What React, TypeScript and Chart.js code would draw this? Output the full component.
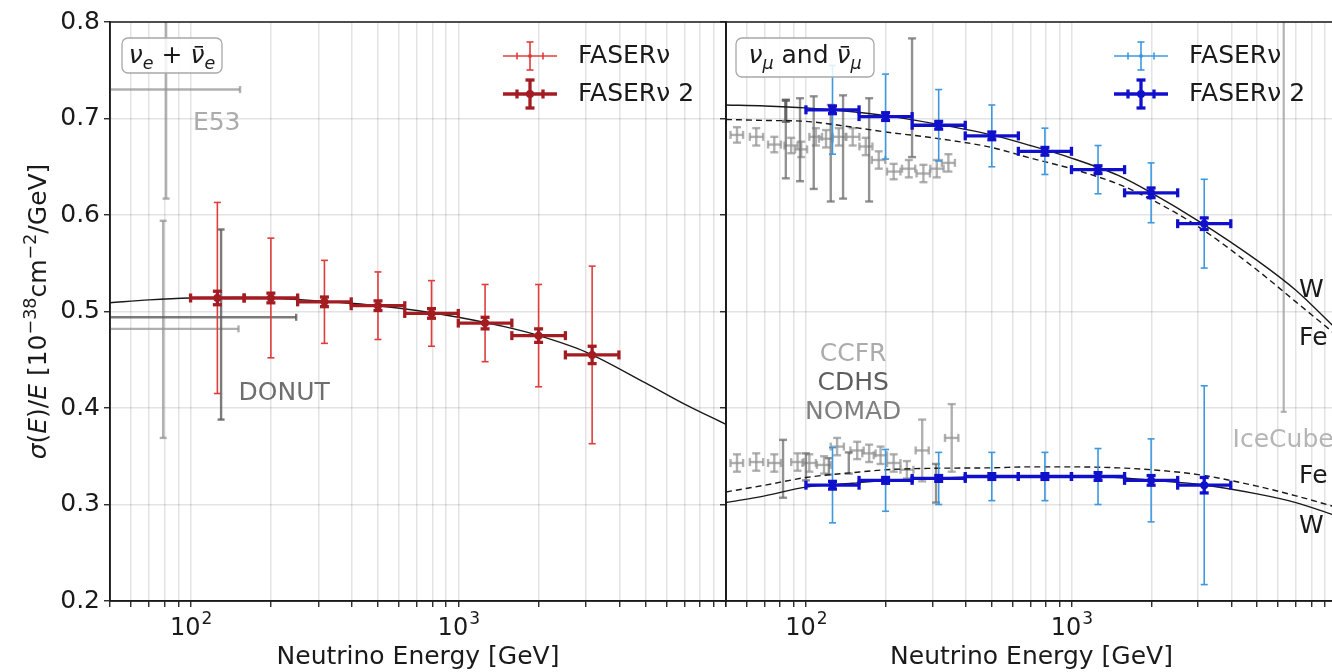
import React, { useEffect, useRef } from 'react';
import { Chart, registerables } from 'chart.js';

Chart.register(...registerables);

const FONT = "'DejaVu Sans', 'Noto Sans', sans-serif";
const INK = '#1a1a1a';

// ---------- axis ticks ----------
const X_GRID = [50, 60, 70, 80, 90, 100, 200, 300, 400, 500, 600, 700, 800, 900, 1000, 2000, 3000, 4000, 5000, 6000, 7000, 8000, 9000, 10000];
const X_LABELED = [100, 1000];
const X_LABEL_EXP = ['2', '3'];
const Y_TICKS = [0.2, 0.3, 0.4, 0.5, 0.6, 0.7, 0.8];

// ---------- FASERν energy bins (GeV) ----------
const BIN_LOW = [100, 158.5, 251.2, 398.1, 631.0, 1000, 1585, 2512];
const BIN_HIGH = [158.5, 251.2, 398.1, 631.0, 1000, 1585, 2512, 3981];
const BIN_CENTER = [125.9, 199.5, 316.2, 501.2, 794.3, 1259, 1995, 3162];

// ---------- νe + ν̄e ----------
const NUE_VALUE = [0.514, 0.514, 0.510, 0.506, 0.498, 0.488, 0.475, 0.455];
const NUE_ERR_FASERNU = [0.099, 0.062, 0.043, 0.035, 0.034, 0.040, 0.053, 0.092];
const NUE_ERR_FASERNU2 = [0.007, 0.005, 0.005, 0.005, 0.005, 0.006, 0.007, 0.009];

// ---------- νμ ----------
const NUMU_VALUE = [0.709, 0.702, 0.693, 0.682, 0.666, 0.647, 0.623, 0.591];
const NUMU_ERR_FASERNU = [0.046, 0.044, 0.037, 0.032, 0.024, 0.025, 0.031, 0.046];
const NUMU_ERR_FASERNU2 = [0.004, 0.004, 0.004, 0.004, 0.004, 0.004, 0.005, 0.006];

// ---------- ν̄μ ----------
const NUMUBAR_VALUE = [0.320, 0.325, 0.327, 0.329, 0.329, 0.329, 0.325, 0.320];
const NUMUBAR_ERR_FASERNU = [0.039, 0.032, 0.027, 0.025, 0.025, 0.029, 0.043, 0.103];
const NUMUBAR_ERR_FASERNU2 = [0.004, 0.003, 0.003, 0.003, 0.003, 0.004, 0.005, 0.008];

// ---------- theory curves ----------
const CURVE_E = [50, 70, 100, 150, 200, 300, 500, 700, 1000, 1500, 2000, 3000, 5000, 7000, 10000];
const NUE_CURVE = [0.509, 0.512, 0.514, 0.5145, 0.514, 0.511, 0.506, 0.501, 0.494, 0.484, 0.475, 0.458, 0.426, 0.404, 0.383];
const NUMU_W = [0.714, 0.713, 0.711, 0.707, 0.703, 0.695, 0.683, 0.672, 0.659, 0.641, 0.623, 0.594, 0.553, 0.522, 0.481];
const NUMU_FE = [0.699, 0.698, 0.697, 0.691, 0.686, 0.680, 0.670, 0.659, 0.648, 0.632, 0.616, 0.588, 0.543, 0.510, 0.475];
const NUMUBAR_W = [0.302, 0.309, 0.318, 0.322, 0.325, 0.327, 0.329, 0.329, 0.329, 0.328, 0.325, 0.321, 0.311, 0.302, 0.288];
const NUMUBAR_FE = [0.313, 0.320, 0.328, 0.333, 0.336, 0.3375, 0.338, 0.339, 0.339, 0.338, 0.336, 0.331, 0.319, 0.309, 0.297];

// ---------- earlier measurements ----------
const E53_E = [81, 79];
const E53_VALUE = [0.730, 0.482];
const E53_LOW = [0.617, 0.369];
const E53_HIGH = [0.843, 0.594];
const E53_E_LOW = [40, 40];
const E53_E_HIGH = [153, 151];

const DONUT_E = [130];
const DONUT_VALUE = [0.494];
const DONUT_LOW = [0.388];
const DONUT_HIGH = [0.585];
const DONUT_E_LOW = [40];
const DONUT_E_HIGH = [248];

const CCFR_NU_E = [55, 65, 76, 88, 96, 109, 119, 133, 150, 168, 188, 214, 244, 277, 311, 344];
const CCFR_NU_E_LOW = [52, 61.5, 72, 83, 91, 103, 112, 126, 142, 159, 177, 202, 230, 261, 294, 325];
const CCFR_NU_E_HIGH = [58, 69, 80.5, 93, 101, 115, 126, 141, 159, 178, 199, 227, 258, 293, 330, 364];
const CCFR_NU_VALUE = [0.683, 0.681, 0.673, 0.672, 0.668, 0.681, 0.679, 0.681, 0.681, 0.671, 0.657, 0.645, 0.648, 0.643, 0.648, 0.654];
const CCFR_NU_ERR = [0.008, 0.009, 0.008, 0.008, 0.008, 0.009, 0.009, 0.009, 0.009, 0.009, 0.009, 0.008, 0.009, 0.009, 0.009, 0.009];

const CDHS_NU_E = [84, 95, 107, 124, 138, 173, 251];
const CDHS_NU_LOW = [0.638, 0.635, 0.627, 0.614, 0.617, 0.614, 0.660];
const CDHS_NU_HIGH = [0.719, 0.721, 0.723, 0.714, 0.724, 0.721, 0.783];

const NOMAD_NU_E = [84];
const NOMAD_NU_LOW = [0.697];
const NOMAD_NU_HIGH = [0.719];

const CCFR_NUBAR_E = [55, 65, 76, 93, 103, 117, 131, 156, 173, 191, 214, 240, 274, 354];
const CCFR_NUBAR_E_LOW = [52, 61.5, 72, 88, 97, 110, 124, 147, 163, 180, 202, 227, 259, 334];
const CCFR_NUBAR_E_HIGH = [58, 69, 80.5, 98, 109, 124, 139, 165, 183, 202, 227, 254, 290, 375];
const CCFR_NUBAR_VALUE = [0.343, 0.344, 0.343, 0.344, 0.343, 0.341, 0.360, 0.356, 0.353, 0.351, 0.343, 0.336, 0.356, 0.369];
const CCFR_NUBAR_ERR = [0.009, 0.009, 0.009, 0.009, 0.009, 0.009, 0.009, 0.009, 0.009, 0.009, 0.009, 0.009, 0.032, 0.035];

const CDHS_NUBAR_E = [82, 100, 122, 145, 309];
const CDHS_NUBAR_LOW = [0.307, 0.325, 0.331, 0.332, 0.302];
const CDHS_NUBAR_HIGH = [0.367, 0.353, 0.348, 0.354, 0.342];

const ICECUBE_E = [6300];
const ICECUBE_LOW = [0.396];
const ICECUBE_HIGH = [0.86];

// ---------- colours ----------
const RED_LIGHT = '#e03c3c';
const RED_DARK = '#a31c22';
const BLUE_LIGHT = '#3d98e0';
const BLUE_DARK = '#1010cc';
const GRAY_LIGHT = 'rgba(150,150,150,0.75)';
const GRAY_DARK = 'rgba(90,90,90,0.8)';
const GRAY_MID = 'rgba(110,110,110,0.75)';

// ---------- types ----------
interface ErrSet {
  x: number[]; y?: number[]; lo: number[]; hi: number[];
  xlo?: number[]; xhi?: number[];
  color: string; lw: number; cap: number; dot?: number;
}
interface MathSeg { t: string; it?: boolean; sub?: boolean; sup?: boolean; bar?: boolean; }
interface Label { text: string; x: number; y: number; color: string; align: CanvasTextAlign; }
interface LegendItem { label: string; color: string; lw: number; cap: number; dot: number; }
interface Curve { y: number[]; dash: boolean; }
interface PanelDef {
  back: ErrSet[]; front: ErrSet[]; curves: Curve[]; labels: Label[];
  legend: LegendItem[];
  box: { segs: MathSeg[]; dx: number; dy: number; w: number; h: number };
}

function faser(value: number[], errNu: number[], errNu2: number[], light: string, dark: string): ErrSet[] {
  return [
    { x: BIN_CENTER, y: value, lo: value.map((v, i) => v - errNu[i]), hi: value.map((v, i) => v + errNu[i]),
      xlo: BIN_LOW, xhi: BIN_HIGH, color: light, lw: 1.6, cap: 3.5, dot: 2.5 },
    { x: BIN_CENTER, y: value, lo: value.map((v, i) => v - errNu2[i]), hi: value.map((v, i) => v + errNu2[i]),
      xlo: BIN_LOW, xhi: BIN_HIGH, color: dark, lw: 3.3, cap: 4.5, dot: 4 },
  ];
}
function crosses(e: number[], elo: number[], ehi: number[], v: number[], err: number[], color: string): ErrSet {
  return { x: e, y: v, lo: v.map((a, i) => a - err[i]), hi: v.map((a, i) => a + err[i]), xlo: elo, xhi: ehi, color, lw: 2.4, cap: 4 };
}

const LEFT: PanelDef = {
  back: [
    { x: E53_E, y: E53_VALUE, lo: E53_LOW, hi: E53_HIGH, xlo: E53_E_LOW, xhi: E53_E_HIGH, color: GRAY_LIGHT, lw: 2.4, cap: 3.5 },
    { x: DONUT_E, y: DONUT_VALUE, lo: DONUT_LOW, hi: DONUT_HIGH, xlo: DONUT_E_LOW, xhi: DONUT_E_HIGH, color: GRAY_DARK, lw: 2.4, cap: 3.5 },
  ],
  front: faser(NUE_VALUE, NUE_ERR_FASERNU, NUE_ERR_FASERNU2, RED_LIGHT, RED_DARK),
  curves: [{ y: NUE_CURVE, dash: false }],
  labels: [
    { text: 'E53', x: 102, y: 0.695, color: '#ababab', align: 'left' },
    { text: 'DONUT', x: 151, y: 0.4155, color: '#6e6e6e', align: 'left' },
  ],
  legend: [
    { label: 'FASERν', color: RED_LIGHT, lw: 1.6, cap: 3.5, dot: 2 },
    { label: 'FASERν 2', color: RED_DARK, lw: 3.3, cap: 4.5, dot: 4 },
  ],
  box: {
    segs: [{ t: 'ν', it: true }, { t: 'e', it: true, sub: true }, { t: ' + ' }, { t: 'ν', it: true, bar: true }, { t: 'e', it: true, sub: true }],
    dx: 12, dy: 16, w: 100, h: 35,
  },
};

const RIGHT: PanelDef = {
  back: [
    crosses(CCFR_NU_E, CCFR_NU_E_LOW, CCFR_NU_E_HIGH, CCFR_NU_VALUE, CCFR_NU_ERR, GRAY_LIGHT),
    crosses(CCFR_NUBAR_E, CCFR_NUBAR_E_LOW, CCFR_NUBAR_E_HIGH, CCFR_NUBAR_VALUE, CCFR_NUBAR_ERR, GRAY_LIGHT),
    { x: CDHS_NU_E, lo: CDHS_NU_LOW, hi: CDHS_NU_HIGH, color: GRAY_MID, lw: 2.4, cap: 4 },
    { x: CDHS_NUBAR_E, lo: CDHS_NUBAR_LOW, hi: CDHS_NUBAR_HIGH, color: GRAY_MID, lw: 2.4, cap: 4 },
    { x: NOMAD_NU_E, lo: NOMAD_NU_LOW, hi: NOMAD_NU_HIGH, color: GRAY_DARK, lw: 3.2, cap: 4 },
    { x: ICECUBE_E, lo: ICECUBE_LOW, hi: ICECUBE_HIGH, color: 'rgba(160,160,160,0.8)', lw: 2.2, cap: 3 },
  ],
  front: [
    ...faser(NUMU_VALUE, NUMU_ERR_FASERNU, NUMU_ERR_FASERNU2, BLUE_LIGHT, BLUE_DARK),
    ...faser(NUMUBAR_VALUE, NUMUBAR_ERR_FASERNU, NUMUBAR_ERR_FASERNU2, BLUE_LIGHT, BLUE_DARK),
  ],
  curves: [
    { y: NUMU_W, dash: false }, { y: NUMU_FE, dash: true },
    { y: NUMUBAR_W, dash: false }, { y: NUMUBAR_FE, dash: true },
  ],
  labels: [
    { text: 'CCFR', x: 150.6, y: 0.455, color: '#ababab', align: 'center' },
    { text: 'CDHS', x: 150.6, y: 0.425, color: '#5e5e5e', align: 'center' },
    { text: 'NOMAD', x: 150.6, y: 0.3953, color: '#808080', align: 'center' },
    { text: 'IceCube', x: 4045, y: 0.366, color: '#b5b5b5', align: 'left' },
    { text: 'W', x: 7200, y: 0.522, color: INK, align: 'left' },
    { text: 'Fe', x: 7200, y: 0.4725, color: INK, align: 'left' },
    { text: 'Fe', x: 7200, y: 0.3285, color: INK, align: 'left' },
    { text: 'W', x: 7200, y: 0.2767, color: INK, align: 'left' },
  ],
  legend: [
    { label: 'FASERν', color: BLUE_LIGHT, lw: 1.6, cap: 3.5, dot: 2 },
    { label: 'FASERν 2', color: BLUE_DARK, lw: 3.3, cap: 4.5, dot: 4 },
  ],
  box: {
    segs: [{ t: 'ν', it: true }, { t: 'μ', it: true, sub: true }, { t: ' and ' }, { t: 'ν', it: true, bar: true }, { t: 'μ', it: true, sub: true }],
    dx: 10, dy: 16, w: 138, h: 39,
  },
};

const Y_TITLE: MathSeg[] = [
  { t: 'σ', it: true }, { t: '(' }, { t: 'E', it: true }, { t: ')/' }, { t: 'E', it: true },
  { t: ' [10' }, { t: '−38', sup: true }, { t: 'cm' }, { t: '−2', sup: true }, { t: '/GeV]' },
];

// ---------- drawing helpers ----------
function segFont(s: MathSeg, size: number) {
  const sz = s.sub || s.sup ? size * 0.7 : size;
  return `${s.it ? 'italic ' : ''}${sz}px ${FONT}`;
}
function mathWidth(ctx: CanvasRenderingContext2D, segs: MathSeg[], size: number) {
  let w = 0;
  for (const s of segs) { ctx.font = segFont(s, size); w += ctx.measureText(s.t).width; }
  return w;
}
function drawMath(ctx: CanvasRenderingContext2D, segs: MathSeg[], x: number, y: number, size: number) {
  let cx = x;
  ctx.textBaseline = 'alphabetic';
  ctx.textAlign = 'left';
  for (const s of segs) {
    ctx.font = segFont(s, size);
    const dy = s.sub ? size * 0.24 : s.sup ? -size * 0.4 : 0;
    ctx.fillText(s.t, cx, y + dy);
    const w = ctx.measureText(s.t).width;
    if (s.bar) ctx.fillRect(cx + w * 0.3, y - size * 0.68, w * 0.6, 1.6);
    cx += w;
  }
}

function drawErr(chart: any, s: ErrSet) {
  const { ctx, chartArea: a } = chart;
  const xs = chart.scales.x, ys = chart.scales.y;
  ctx.save();
  ctx.beginPath();
  ctx.rect(a.left, a.top, a.right - a.left, a.bottom - a.top);
  ctx.clip();
  ctx.strokeStyle = s.color;
  ctx.fillStyle = s.color;
  ctx.lineWidth = s.lw;
  ctx.lineCap = 'butt';
  const seg = (x1: number, y1: number, x2: number, y2: number) => {
    ctx.beginPath(); ctx.moveTo(x1, y1); ctx.lineTo(x2, y2); ctx.stroke();
  };
  for (let i = 0; i < s.x.length; i++) {
    const px = xs.getPixelForValue(s.x[i]);
    if (s.y && s.xlo && s.xhi) {
      const py = ys.getPixelForValue(s.y[i]);
      const x1 = xs.getPixelForValue(s.xlo[i]);
      const x2 = xs.getPixelForValue(s.xhi[i]);
      seg(x1, py, x2, py);
      seg(x1, py - s.cap, x1, py + s.cap);
      seg(x2, py - s.cap, x2, py + s.cap);
    }
    const y1 = ys.getPixelForValue(s.lo[i]);
    const y2 = ys.getPixelForValue(s.hi[i]);
    seg(px, y1, px, y2);
    seg(px - s.cap, y1, px + s.cap, y1);
    seg(px - s.cap, y2, px + s.cap, y2);
    if (s.dot && s.y) {
      ctx.beginPath();
      ctx.arc(px, ys.getPixelForValue(s.y[i]), s.dot, 0, Math.PI * 2);
      ctx.fill();
    }
  }
  ctx.restore();
}

function drawLegend(ctx: CanvasRenderingContext2D, a: any, items: LegendItem[]) {
  const x0 = a.right - 223, x1 = a.right - 169, xc = (x0 + x1) / 2, tx = a.right - 148;
  items.forEach((it, i) => {
    const y = a.top + 34 + i * 38;
    ctx.save();
    ctx.strokeStyle = it.color; ctx.fillStyle = it.color; ctx.lineWidth = it.lw;
    const seg = (ax: number, ay: number, bx: number, by: number) => {
      ctx.beginPath(); ctx.moveTo(ax, ay); ctx.lineTo(bx, by); ctx.stroke();
    };
    seg(x0, y, x1, y);
    seg(xc - 13, y - it.cap, xc - 13, y + it.cap);
    seg(xc + 13, y - it.cap, xc + 13, y + it.cap);
    seg(xc, y - 14, xc, y + 14);
    seg(xc - it.cap, y - 14, xc + it.cap, y - 14);
    seg(xc - it.cap, y + 14, xc + it.cap, y + 14);
    ctx.beginPath(); ctx.arc(xc, y, it.dot, 0, Math.PI * 2); ctx.fill();
    ctx.fillStyle = INK;
    ctx.font = `25px ${FONT}`;
    ctx.textAlign = 'left';
    ctx.textBaseline = 'middle';
    ctx.fillText(it.label, tx, y);
    ctx.restore();
  });
}

function drawXLabels(ctx: CanvasRenderingContext2D, chart: any) {
  const xs = chart.scales.x;
  const a = chart.chartArea;
  ctx.save();
  ctx.fillStyle = INK;
  ctx.textBaseline = 'alphabetic';
  ctx.textAlign = 'left';
  X_LABELED.forEach((v, i) => {
    const px = xs.getPixelForValue(v);
    ctx.font = `24px ${FONT}`;
    const wBase = ctx.measureText('10').width;
    ctx.font = `17px ${FONT}`;
    const wExp = ctx.measureText(X_LABEL_EXP[i]).width;
    const x0 = px - (wBase + wExp) / 2;
    const base = a.bottom + 34;
    ctx.font = `24px ${FONT}`;
    ctx.fillText('10', x0, base);
    ctx.font = `17px ${FONT}`;
    ctx.fillText(X_LABEL_EXP[i], x0 + wBase + 1, base - 11);
  });
  ctx.restore();
}

function panelPlugin(p: PanelDef, isLeft: boolean) {
  return {
    id: isLeft ? 'panelLeft' : 'panelRight',
    beforeDatasetsDraw(chart: any) {
      p.back.forEach((s) => drawErr(chart, s));
    },
    afterDraw(chart: any) {
      const { ctx, chartArea: a } = chart;
      const xs = chart.scales.x, ys = chart.scales.y;
      p.front.forEach((s) => drawErr(chart, s));

      ctx.save();
      ctx.font = `25px ${FONT}`;
      ctx.textBaseline = 'middle';
      for (const l of p.labels) {
        ctx.fillStyle = l.color;
        ctx.textAlign = l.align;
        ctx.fillText(l.text, xs.getPixelForValue(l.x), ys.getPixelForValue(l.y));
      }
      ctx.restore();

      drawLegend(ctx, a, p.legend);

      // annotation box
      const b = p.box;
      const bx = a.left + b.dx, by = a.top + b.dy;
      ctx.save();
      ctx.beginPath();
      ctx.roundRect(bx, by, b.w, b.h, 6);
      ctx.fillStyle = 'rgba(255,255,255,0.85)';
      ctx.fill();
      ctx.strokeStyle = '#a8a8a8';
      ctx.lineWidth = 1.3;
      ctx.stroke();
      ctx.fillStyle = INK;
      const mw = mathWidth(ctx, b.segs, 25);
      drawMath(ctx, b.segs, bx + (b.w - mw) / 2, by + 25, 25);
      ctx.restore();

      // frame
      ctx.save();
      ctx.strokeStyle = INK;
      ctx.lineWidth = 1.5;
      ctx.strokeRect(a.left, a.top, a.right - a.left, a.bottom - a.top);
      ctx.restore();

      drawXLabels(ctx, chart);

      if (isLeft) {
        ctx.save();
        ctx.fillStyle = INK;
        const w = mathWidth(ctx, Y_TITLE, 25);
        ctx.translate(a.left - 64, (a.top + a.bottom) / 2);
        ctx.rotate(-Math.PI / 2);
        drawMath(ctx, Y_TITLE, -w / 2, 0, 25);
        ctx.restore();
      }
    },
  };
}

function makeConfig(p: PanelDef, isLeft: boolean): any {
  const tickFont = { family: FONT, size: 25 };
  return {
    type: 'scatter',
    data: {
      datasets: p.curves.map((c) => ({
        data: CURVE_E.map((e, i) => ({ x: e, y: c.y[i] })),
        showLine: true,
        borderColor: INK,
        borderWidth: 1.4,
        borderDash: c.dash ? [6, 4] : [],
        pointRadius: 0,
        cubicInterpolationMode: 'monotone',
        fill: false,
      })),
    },
    options: {
      responsive: false,
      maintainAspectRatio: false,
      animation: false,
      devicePixelRatio: 1,
      events: [],
      layout: { padding: { left: 0, right: isLeft ? 4 : 0, top: 22, bottom: 0 } },
      plugins: { legend: { display: false }, tooltip: { enabled: false } },
      scales: {
        x: {
          type: 'logarithmic',
          min: 50,
          max: 10000,
          afterBuildTicks: (scale: any) => { scale.ticks = X_GRID.map((v) => ({ value: v })); },
          afterFit: (scale: any) => { scale.height = 71; },
          ticks: {
            autoSkip: false, maxRotation: 0, minRotation: 0, padding: 3,
            font: tickFont, color: INK,
            callback: () => '',
          },
          grid: { color: 'rgba(0,0,0,0.11)', lineWidth: 1.5, tickColor: INK, tickLength: 6, tickWidth: 1.3 },
          border: { color: INK, width: 1.5 },
          title: { display: true, text: 'Neutrino Energy [GeV]', font: { family: FONT, size: 25 }, color: INK, padding: { top: 0, bottom: 0 } },
        },
        y: {
          type: 'linear',
          min: 0.2,
          max: 0.8,
          afterBuildTicks: (scale: any) => { scale.ticks = Y_TICKS.map((v) => ({ value: v })); },
          afterFit: (scale: any) => { scale.width = isLeft ? 110 : 26; },
          ticks: {
            display: isLeft, padding: 4, font: tickFont, color: INK,
            callback: (v: number) => v.toFixed(1),
          },
          grid: { color: 'rgba(0,0,0,0.11)', lineWidth: 1.5, tickColor: INK, tickLength: 6, tickWidth: 1.3 },
          border: { color: INK, width: 1.5 },
        },
      },
    },
    plugins: [panelPlugin(p, isLeft)],
  };
}

export default function App() {
  const leftRef = useRef<HTMLCanvasElement>(null);
  const rightRef = useRef<HTMLCanvasElement>(null);
  useEffect(() => {
    const c1 = new Chart(leftRef.current as HTMLCanvasElement, makeConfig(LEFT, true));
    const c2 = new Chart(rightRef.current as HTMLCanvasElement, makeConfig(RIGHT, false));
    return () => { c1.destroy(); c2.destroy(); };
  }, []);
  return (
    <div style={{ position: 'absolute', left: 0, top: 0, width: 1332, height: 672, overflow: 'hidden', background: '#ffffff' }}>
      <canvas ref={leftRef} width={730} height={672} style={{ position: 'absolute', left: 0, top: 0 }} />
      <canvas ref={rightRef} width={640} height={672} style={{ position: 'absolute', left: 700, top: 0 }} />
    </div>
  );
}
